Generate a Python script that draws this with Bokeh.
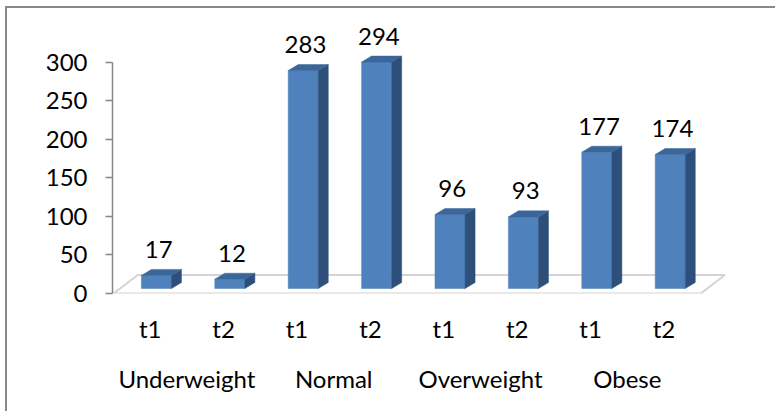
from bokeh.plotting import figure
from bokeh.models import Range1d, LinearAxis, FixedTicker, ColumnDataSource
from bokeh.embed import file_html
from bokeh.resources import INLINE
from bokeh.core.properties import value

# ---- data ----
groups = ["Underweight", "Normal", "Overweight", "Obese"]
times = ["t1", "t2"]
counts_t1 = [17, 283, 96, 177]
counts_t2 = [12, 294, 93, 174]
y_ticks = [0, 50, 100, 150, 200, 250, 300]

# ---- style / geometry constants ----
FONT = "Lato"
FS = "24px"
BASE = 6.5        # bars stand slightly behind the front edge of the floor
FACE_SHIFT = 0.085
FACE_W = 0.41
DX = 0.136        # depth offset (x, in slot units)
DY = 7.8          # depth offset (y, in value units)
FLOOR_DX = 0.33
FLOOR_DY = 24
FRONT = "#4f81bd"
SIDE = "#2e4f7a"
TOPC = "#3b6699"

vals, ticklabels = [], []
for a, b in zip(counts_t1, counts_t2):
    vals += [a, b]
    ticklabels += times
n = len(vals)
xc = [i + 0.5 for i in range(n)]
lefts = [c + FACE_SHIFT - FACE_W / 2 for c in xc]
rights = [c + FACE_SHIFT + FACE_W / 2 for c in xc]
tops = [BASE + v for v in vals]

PX = 73.4
p = figure(width=775, height=411, output_backend="svg", toolbar_location=None,
           x_range=Range1d(-1 / PX, -1 / PX + 628 / PX),
           y_range=Range1d(0, 367.5),
           min_border_left=112, min_border_right=35,
           min_border_top=10, min_border_bottom=118)
p.outline_line_color = None
p.xgrid.visible = False
p.ygrid.visible = False
p.background_fill_color = "white"
p.border_fill_color = None
# outer chart border: only its left and top edges fall inside the window
p.styles = {"box-shadow": "inset 5px 6px 0 0 #ffffff, inset 7px 8px 0 0 #898989",
            "background-color": "white"}

# floor
p.patch(x=[0, n, n + FLOOR_DX, FLOOR_DX], y=[0, 0, FLOOR_DY, FLOOR_DY],
        fill_color="white", line_color="#d4d4d4", line_width=2)

# bars: front faces
p.quad(left=lefts, right=rights, bottom=[BASE] * n, top=tops,
       fill_color=FRONT, line_color=FRONT, line_width=0.5)
# side faces
side_xs = [[r, r + DX, r + DX, r] for r in rights]
side_ys = [[BASE, BASE + DY, t + DY, t] for t in tops]
p.patches(xs=side_xs, ys=side_ys, fill_color=SIDE, line_color=SIDE, line_width=0.5)
# top faces
top_xs = [[l, r, r + DX, l + DX] for l, r in zip(lefts, rights)]
top_ys = [[t, t, t + DY, t + DY] for t in tops]
p.patches(xs=top_xs, ys=top_ys, fill_color=TOPC, line_color=TOPC, line_width=0.5)

# data labels
src = ColumnDataSource(dict(x=[c + FACE_SHIFT + 0.03 for c in xc], y=tops,
                            t=[str(v) for v in vals]))
p.text(x="x", y="y", text="t", source=src, text_align="center",
       text_baseline="alphabetic", y_offset=-26,
       text_font=value(FONT), text_font_size=FS, text_color="black")

# y axis
ya = p.yaxis[0]
ya.ticker = FixedTicker(ticks=y_ticks)
ya.bounds = (0, 300)
ya.axis_line_color = "#868686"
ya.axis_line_width = 1.5
ya.major_tick_line_color = "#868686"
ya.major_tick_line_width = 1.5
ya.major_tick_out = 7
ya.major_tick_in = 0
ya.minor_tick_line_color = None
ya.major_label_standoff = 18
ya.major_label_text_font = FONT
ya.major_label_text_font_size = FS
ya.major_label_text_color = "black"

# x axis: t1/t2
xa = p.xaxis[0]
xa.ticker = FixedTicker(ticks=xc)
xa.major_label_overrides = {c: lab for c, lab in zip(xc, ticklabels)}
xa.axis_line_color = None
xa.major_tick_line_color = None
xa.minor_tick_line_color = None
xa.major_tick_out = 0
xa.major_tick_in = 0
xa.major_label_standoff = 20
xa.major_label_text_font = FONT
xa.major_label_text_font_size = FS
xa.major_label_text_color = "black"

# x axis: groups
gc = [2 * i + 1 for i in range(len(groups))]
ga = LinearAxis(ticker=FixedTicker(ticks=gc),
                major_label_overrides={c: g for c, g in zip(gc, groups)})
ga.axis_line_color = None
ga.major_tick_line_color = None
ga.minor_tick_line_color = None
ga.major_tick_out = 0
ga.major_tick_in = 0
ga.major_label_standoff = 18
ga.major_label_text_font = FONT
ga.major_label_text_font_size = FS
ga.major_label_text_color = "black"
p.add_layout(ga, "below")

open("out.html", "w").write(file_html(p, INLINE))
